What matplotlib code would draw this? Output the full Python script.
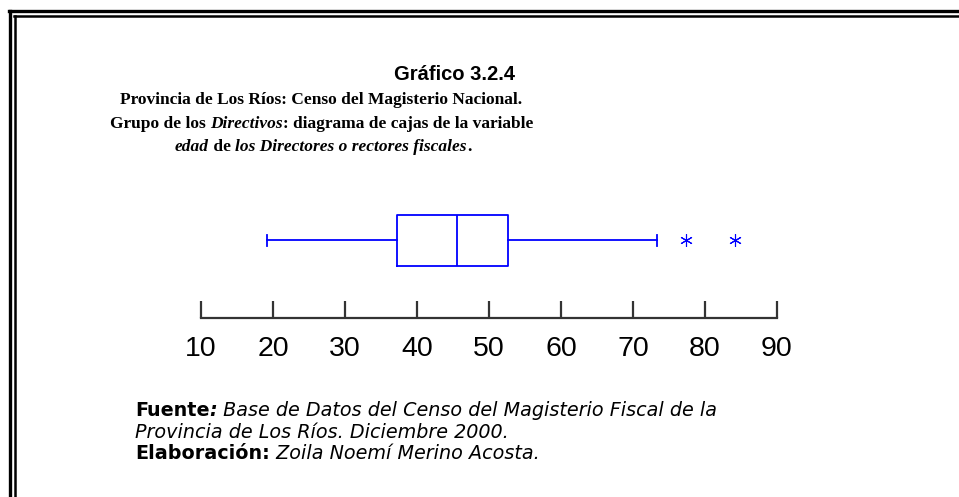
import matplotlib
matplotlib.use('Agg')
from matplotlib import pyplot as plt
from matplotlib import font_manager
from matplotlib.lines import Line2D

# box plot summary for "edad"
whisker_lo = 19.1
q1 = 37.2
median = 45.6
q3 = 52.6
whisker_hi = 73.3
outliers = [77.3, 84.2]

ticks = [10, 20, 30, 40, 50, 60, 70, 80, 90]

W, H = 959, 497
fig = plt.figure(figsize=(W / 100, H / 100), dpi=100)
fig.patch.set_facecolor('white')

installed = {f.name for f in font_manager.fontManager.ttflist}
narrow = 'Liberation Sans Narrow' if 'Liberation Sans Narrow' in installed else None


def px(x, y):
    # pixel coords (from top-left) to figure fraction
    return x / W, 1 - y / H


# double border on top and left
for y, lw in [(10.5, 2.4), (15.5, 1.8)]:
    fig.add_artist(Line2D([px(y - 2, 0)[0], 1], [px(0, y)[1]] * 2, color='black', lw=lw))
for x, lw in [(9.5, 2.4), (14.5, 1.8)]:
    fig.add_artist(Line2D([px(x, 0)[0]] * 2, [0, px(0, x + 1)[1]], color='black', lw=lw))

renderer = fig.canvas.get_renderer()


def pieces(x, y, parts, size, family, ha='left'):
    # draw a line made of differently styled parts, left to right
    arts = []
    cur = x
    for txt, weight, style in parts:
        t = fig.text(*px(cur, y), txt, fontsize=size, family=family,
                     fontweight=weight, fontstyle=style, va='baseline', ha='left')
        bb = t.get_window_extent(renderer)
        cur += bb.width
        arts.append(t)
    if ha == 'center':
        shift = (cur - x) / 2
        for t in arts:
            tx, ty = t.get_position()
            t.set_position((tx - shift / W, ty))
    return arts


if narrow:
    fig.text(*px(455, 80), 'Gráfico 3.2.4', fontsize=16, family=narrow,
             fontweight='bold', ha='center', va='baseline')
else:
    fig.text(*px(455, 80), 'Gráfico 3.2.4', fontsize=14.5, family='Liberation Sans',
             fontweight='bold', ha='center', va='baseline')

serif = 'Liberation Serif'
tsize = 12.5
pieces(321, 104, [('Provincia de Los Ríos: Censo del Magisterio Nacional.', 'bold', 'normal')],
       tsize, serif, ha='center')
pieces(322, 128, [('Grupo de los ', 'bold', 'normal'), ('Directivos', 'bold', 'italic'),
                  (': diagrama de cajas de la variable', 'bold', 'normal')],
       tsize, serif, ha='center')
pieces(323, 151, [('edad', 'bold', 'italic'), (' de ', 'bold', 'normal'),
                  ('los Directores o rectores fiscales', 'bold', 'italic'), ('.', 'bold', 'normal')],
       tsize, serif, ha='center')

sans = 'DejaVu Sans'
fsize = 13.8
pieces(135, 416, [('Fuente', 'bold', 'normal'), (':', 'bold', 'italic'),
                  (' Base de Datos del Censo del Magisterio Fiscal de la', 'normal', 'italic')],
       fsize, sans)
pieces(135, 438, [('Provincia de Los Ríos. Diciembre 2000.', 'normal', 'italic')], fsize, sans)
pieces(135, 459, [('Elaboración:', 'bold', 'normal'),
                  (' Zoila Noemí Merino Acosta.', 'normal', 'italic')], fsize, sans)

# axes: x from tick 10 (201 px) to tick 90 (777 px), bottom spine at 318 px
x0, x1 = 201, 777
ybot, ytop = 318, 198
ax = fig.add_axes([x0 / W, 1 - ybot / H, (x1 - x0) / W, (ybot - ytop) / H])
ax.set_xlim(10, 90)
ax.set_ylim(0, ybot - ytop)

stats = [{'whislo': whisker_lo, 'q1': q1, 'med': median, 'q3': q3,
          'whishi': whisker_hi, 'fliers': outliers}]
blue = '#0000ff'
ax.bxp(stats, positions=[ybot - 240], widths=51, capwidths=11, vert=False,
       showfliers=True,
       boxprops=dict(color=blue, lw=1.3),
       medianprops=dict(color=blue, lw=1.3),
       whiskerprops=dict(color=blue, lw=1.3),
       capprops=dict(color=blue, lw=1.3),
       flierprops=dict(marker=(6, 2, 0), markersize=9, markeredgecolor=blue,
                       markerfacecolor=blue, markeredgewidth=0.8))

for s in ['top', 'left', 'right']:
    ax.spines[s].set_visible(False)
ax.spines['bottom'].set_color('#333333')
ax.spines['bottom'].set_linewidth(1.6)
ax.set_yticks([])
ax.set_xticks(ticks)
ax.set_xticklabels([str(t) for t in ticks])
ax.tick_params(axis='x', direction='in', length=12, width=1.6, color='#333333',
               labelsize=20.5, pad=13)
for lab in ax.get_xticklabels():
    lab.set_family('Liberation Sans')
ax.patch.set_alpha(0)

fig.savefig('out.png', dpi=100)
